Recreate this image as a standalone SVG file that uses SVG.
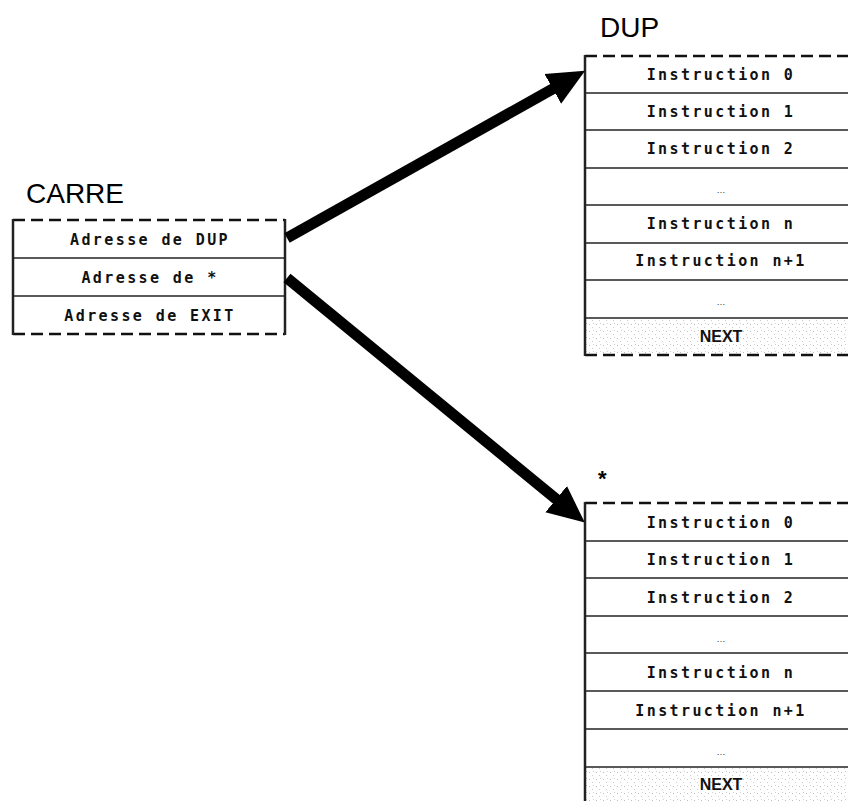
<svg xmlns="http://www.w3.org/2000/svg" width="848" height="801" viewBox="0 0 848 801">
<style>
.title{font-family:"Liberation Sans",Arial,sans-serif;font-size:28px;fill:#000}
.cell{font-family:"DejaVu Sans Mono","Liberation Mono",monospace;font-weight:bold;font-size:15px;letter-spacing:2.4px;fill:#111;text-anchor:middle}
.dots{font-family:"Liberation Sans",sans-serif;font-size:9px;fill:#333;text-anchor:middle}
.next{font-family:"Liberation Sans",Arial,sans-serif;font-weight:bold;font-size:16px;fill:#111;text-anchor:middle}
.dash{stroke:#111;stroke-width:2.5;stroke-dasharray:12 6;fill:none}
.side{stroke:#222;stroke-width:2.5;fill:none}
.row{stroke:#222;stroke-width:1.5;fill:none}
.arrow{stroke:#000;stroke-width:11;fill:none;marker-end:url(#head)}
</style>
<defs>
<marker id="head" markerUnits="userSpaceOnUse" markerWidth="38" markerHeight="36" refX="14" refY="18" orient="auto">
<path d="M0,1 L37,18 L0,35 z" fill="#000"/>
</marker>
<pattern id="stip" width="7" height="7" patternUnits="userSpaceOnUse">
<rect x="1" y="2" width="1" height="1" fill="#bbb"/>
<rect x="4" y="5" width="1" height="1" fill="#ccc"/>
<rect x="5" y="1" width="1" height="1" fill="#d0d0d0"/>
</pattern>
</defs>

<g id="carre">
<text class="title" x="26" y="203">CARRE</text>
<line class="dash" x1="13" y1="220" x2="285" y2="220"/>
<line class="dash" x1="13" y1="334" x2="285" y2="334"/>
<line class="side" x1="13" y1="219" x2="13" y2="335"/>
<line class="side" x1="285" y1="219" x2="285" y2="335"/>
<line class="row" x1="13" y1="258" x2="285" y2="258"/>
<line class="row" x1="13" y1="296" x2="285" y2="296"/>
<text class="cell" x="150" y="245">Adresse de DUP</text>
<text class="cell" x="150" y="283">Adresse de *</text>
<text class="cell" x="150" y="321">Adresse de EXIT</text>
</g>

<g id="dup">
<text class="title" x="600" y="37">DUP</text>
<rect x="586" y="318" width="270" height="37" fill="url(#stip)"/>
<line class="dash" x1="585" y1="56" x2="856" y2="56"/>
<line class="dash" x1="585" y1="355" x2="856" y2="355"/>
<line class="side" x1="585" y1="55" x2="585" y2="356"/>
<line class="row" x1="585" y1="93" x2="856" y2="93"/>
<line class="row" x1="585" y1="130" x2="856" y2="130"/>
<line class="row" x1="585" y1="168" x2="856" y2="168"/>
<line class="row" x1="585" y1="205" x2="856" y2="205"/>
<line class="row" x1="585" y1="243" x2="856" y2="243"/>
<line class="row" x1="585" y1="280" x2="856" y2="280"/>
<line class="row" x1="585" y1="318" x2="856" y2="318"/>
<text class="cell" x="721" y="80">Instruction 0</text>
<text class="cell" x="721" y="117">Instruction 1</text>
<text class="cell" x="721" y="154">Instruction 2</text>
<text class="dots" x="721" y="193">…</text>
<text class="cell" x="721" y="229">Instruction n</text>
<text class="cell" x="721" y="266">Instruction n+1</text>
<text class="dots" x="721" y="305">…</text>
<text class="next" x="721" y="342">NEXT</text>
</g>

<g id="star">
<text class="title" x="598" y="486" style="font-weight:bold;font-size:22px">*</text>
<rect x="586" y="767" width="270" height="40" fill="url(#stip)"/>
<line class="dash" x1="585" y1="503" x2="856" y2="503"/>
<line class="side" x1="585" y1="502" x2="585" y2="805"/>
<line class="row" x1="585" y1="541" x2="856" y2="541"/>
<line class="row" x1="585" y1="578" x2="856" y2="578"/>
<line class="row" x1="585" y1="616" x2="856" y2="616"/>
<line class="row" x1="585" y1="653" x2="856" y2="653"/>
<line class="row" x1="585" y1="691" x2="856" y2="691"/>
<line class="row" x1="585" y1="729" x2="856" y2="729"/>
<line class="row" x1="585" y1="767" x2="856" y2="767"/>
<text class="cell" x="721" y="528">Instruction 0</text>
<text class="cell" x="721" y="565">Instruction 1</text>
<text class="cell" x="721" y="603">Instruction 2</text>
<text class="dots" x="721" y="642">…</text>
<text class="cell" x="721" y="678">Instruction n</text>
<text class="cell" x="721" y="716">Instruction n+1</text>
<text class="dots" x="721" y="755">…</text>
<text class="next" x="721" y="790">NEXT</text>
</g>

<g id="connectors">
<line class="arrow" x1="287" y1="238" x2="565" y2="82"/>
<line class="arrow" x1="287" y1="278" x2="567" y2="508"/>
</g>
</svg>
